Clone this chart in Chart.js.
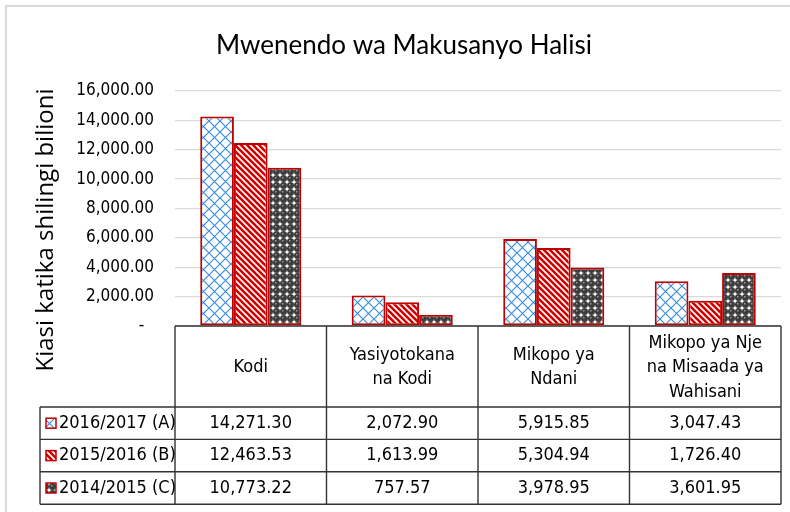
<!DOCTYPE html>
<html><head><meta charset="utf-8">
<script src="https://cdn.jsdelivr.net/npm/chart.js@4"></script>
<style>html,body{margin:0;padding:0;background:#fff;}#wrap{width:790px;height:512px;position:relative;}</style>
</head><body><div id="wrap"><canvas id="c" width="790" height="512"></canvas></div>
<script>
// ---- data ----
const categories = [["Kodi"], ["Yasiyotokana", "na Kodi"], ["Mikopo ya", "Ndani"], ["Mikopo ya Nje", "na Misaada ya", "Wahisani"]];
const seriesNames = ["2016/2017 (A)", "2015/2016 (B)", "2014/2015 (C)"];
const valuesA = [14271.30, 2072.90, 5915.85, 3047.43];
const valuesB = [12463.53, 1613.99, 5304.94, 1726.40];
const valuesC = [10773.22, 757.57, 3978.95, 3601.95];
const yMin = 0, yMax = 16000, yStep = 2000;
const chartTitle = "Mwenendo wa Makusanyo Halisi";
const yTitle = "Kiasi katika shilingi bilioni";

// ---- patterns ----
const canvas = document.getElementById('c');
const ctx = canvas.getContext('2d');
function mk(s, draw) { const c = document.createElement('canvas'); c.width = c.height = s; const g = c.getContext('2d'); g.fillStyle = '#fff'; g.fillRect(0, 0, s, s); draw(g, s); return ctx.createPattern(c, 'repeat'); }
const patA = mk(11, (g, s) => { g.strokeStyle = '#3b8fdb'; g.lineWidth = 1.2; g.beginPath(); g.moveTo(0, 0); g.lineTo(s, s); g.moveTo(s, 0); g.lineTo(0, s); g.stroke(); });
const patB = mk(6, (g, s) => { g.strokeStyle = '#d00000'; g.lineWidth = 2.6; g.beginPath(); for (const k of [-s, 0, s]) { g.moveTo(k - 1, -1); g.lineTo(k + s + 1, s + 1); } g.stroke(); });
const patC = mk(7, (g, s) => { g.fillStyle = '#3c3c3c'; g.beginPath(); g.arc(3.5, 3.5, 3.5, 0, Math.PI * 2); g.fill(); g.fillStyle = '#9a9a9a'; g.fillRect(2, 2, 1.5, 1.5); });
const patterns = [patA, patB, patC];
const seriesValues = [valuesA, valuesB, valuesC];

const FONT = '"DejaVu Sans Condensed", "DejaVu Sans", sans-serif';
function fmt(v) { return v.toLocaleString('en-US', { minimumFractionDigits: 2, maximumFractionDigits: 2 }); }

const tablePlugin = {
  id: 'tbl',
  afterDraw(chart) {
    const c = chart.ctx, a = chart.chartArea, x = chart.scales.x;
    const left = a.left, right = a.right, top = a.bottom;
    const hdrBottom = 407, rowH = 32.4, tblLeft = 40;
    const n = categories.length;
    const bounds = [];
    for (let i = 0; i < n; i++) bounds.push(x.getPixelForValue(i) - (right - left) / n / 2);
    bounds.push(right);
    c.save();
    // outer frame
    c.strokeStyle = '#d9d9d9'; c.lineWidth = 2; c.strokeRect(6, 6, 800, 520);
    // title
    c.fillStyle = '#000'; c.textAlign = 'center'; c.textBaseline = 'middle';
    c.font = '26px Lato'; c.fillText(chartTitle, 404, 46);
    // y title
    c.save(); c.translate(46, 230); c.rotate(-Math.PI / 2); c.font = '24px "Open Sans"'; c.fillText(yTitle, 0, 0); c.restore();
    // table lines
    c.strokeStyle = '#333'; c.lineWidth = 1.4;
    c.beginPath();
    c.moveTo(left, top); c.lineTo(right, top);
    const lastY = hdrBottom + rowH * 3;
    for (let r = 0; r <= 3; r++) { const y = hdrBottom + rowH * r; c.moveTo(tblLeft, y); c.lineTo(right, y); }
    for (const b of bounds) { c.moveTo(b, top); c.lineTo(b, lastY); }
    c.moveTo(tblLeft, hdrBottom); c.lineTo(tblLeft, lastY);
    c.stroke();
    // category labels
    c.fillStyle = '#000'; c.font = '18px ' + FONT;
    const lh = 24.5, midH = (top + hdrBottom) / 2;
    categories.forEach((lines, i) => {
      const cx = x.getPixelForValue(i);
      const y0 = midH + 1 - (lines.length - 1) * lh / 2;
      lines.forEach((t, j) => c.fillText(t, cx, y0 + j * lh));
    });
    // rows
    seriesNames.forEach((nm, r) => {
      const cy = hdrBottom + rowH * r + rowH / 2;
      c.fillStyle = patterns[r]; c.fillRect(46, cy - 5, 10, 10);
      c.strokeStyle = '#c00000'; c.lineWidth = 1.5; c.strokeRect(46, cy - 5, 10, 10);
      c.fillStyle = '#000'; c.textAlign = 'left'; c.fillText(nm, 59, cy);
      c.textAlign = 'center';
      seriesValues[r].forEach((v, i) => c.fillText(fmt(v), x.getPixelForValue(i), cy));
    });
    c.restore();
  }
};

new Chart(canvas, {
  type: 'bar',
  data: {
    labels: categories.map(l => l.join(' ')),
    datasets: seriesNames.map((nm, i) => ({
      label: nm, data: seriesValues[i], backgroundColor: patterns[i],
      borderColor: '#c00000', borderWidth: 2, borderSkipped: false,
      categoryPercentage: 0.667, barPercentage: 1
    }))
  },
  options: {
    responsive: false, animation: false, devicePixelRatio: 1,
    layout: { padding: { top: 91, bottom: 512 - 326, left: 0, right: 790 - 781 } },
    plugins: { legend: { display: false }, title: { display: false }, tooltip: { enabled: false } },
    scales: {
      x: { display: false },
      y: {
        min: yMin, max: yMax,
        ticks: { stepSize: yStep, color: '#000', padding: 21, font: { family: FONT, size: 17 },
          callback: v => v === 0 ? '-  ' : fmt(v) },
        grid: { color: '#d9d9d9', lineWidth: 1.3, drawTicks: false },
        border: { display: false },
        afterFit(s) { s.width = 175; }
      }
    }
  },
  plugins: [tablePlugin]
});
</script></body></html>
